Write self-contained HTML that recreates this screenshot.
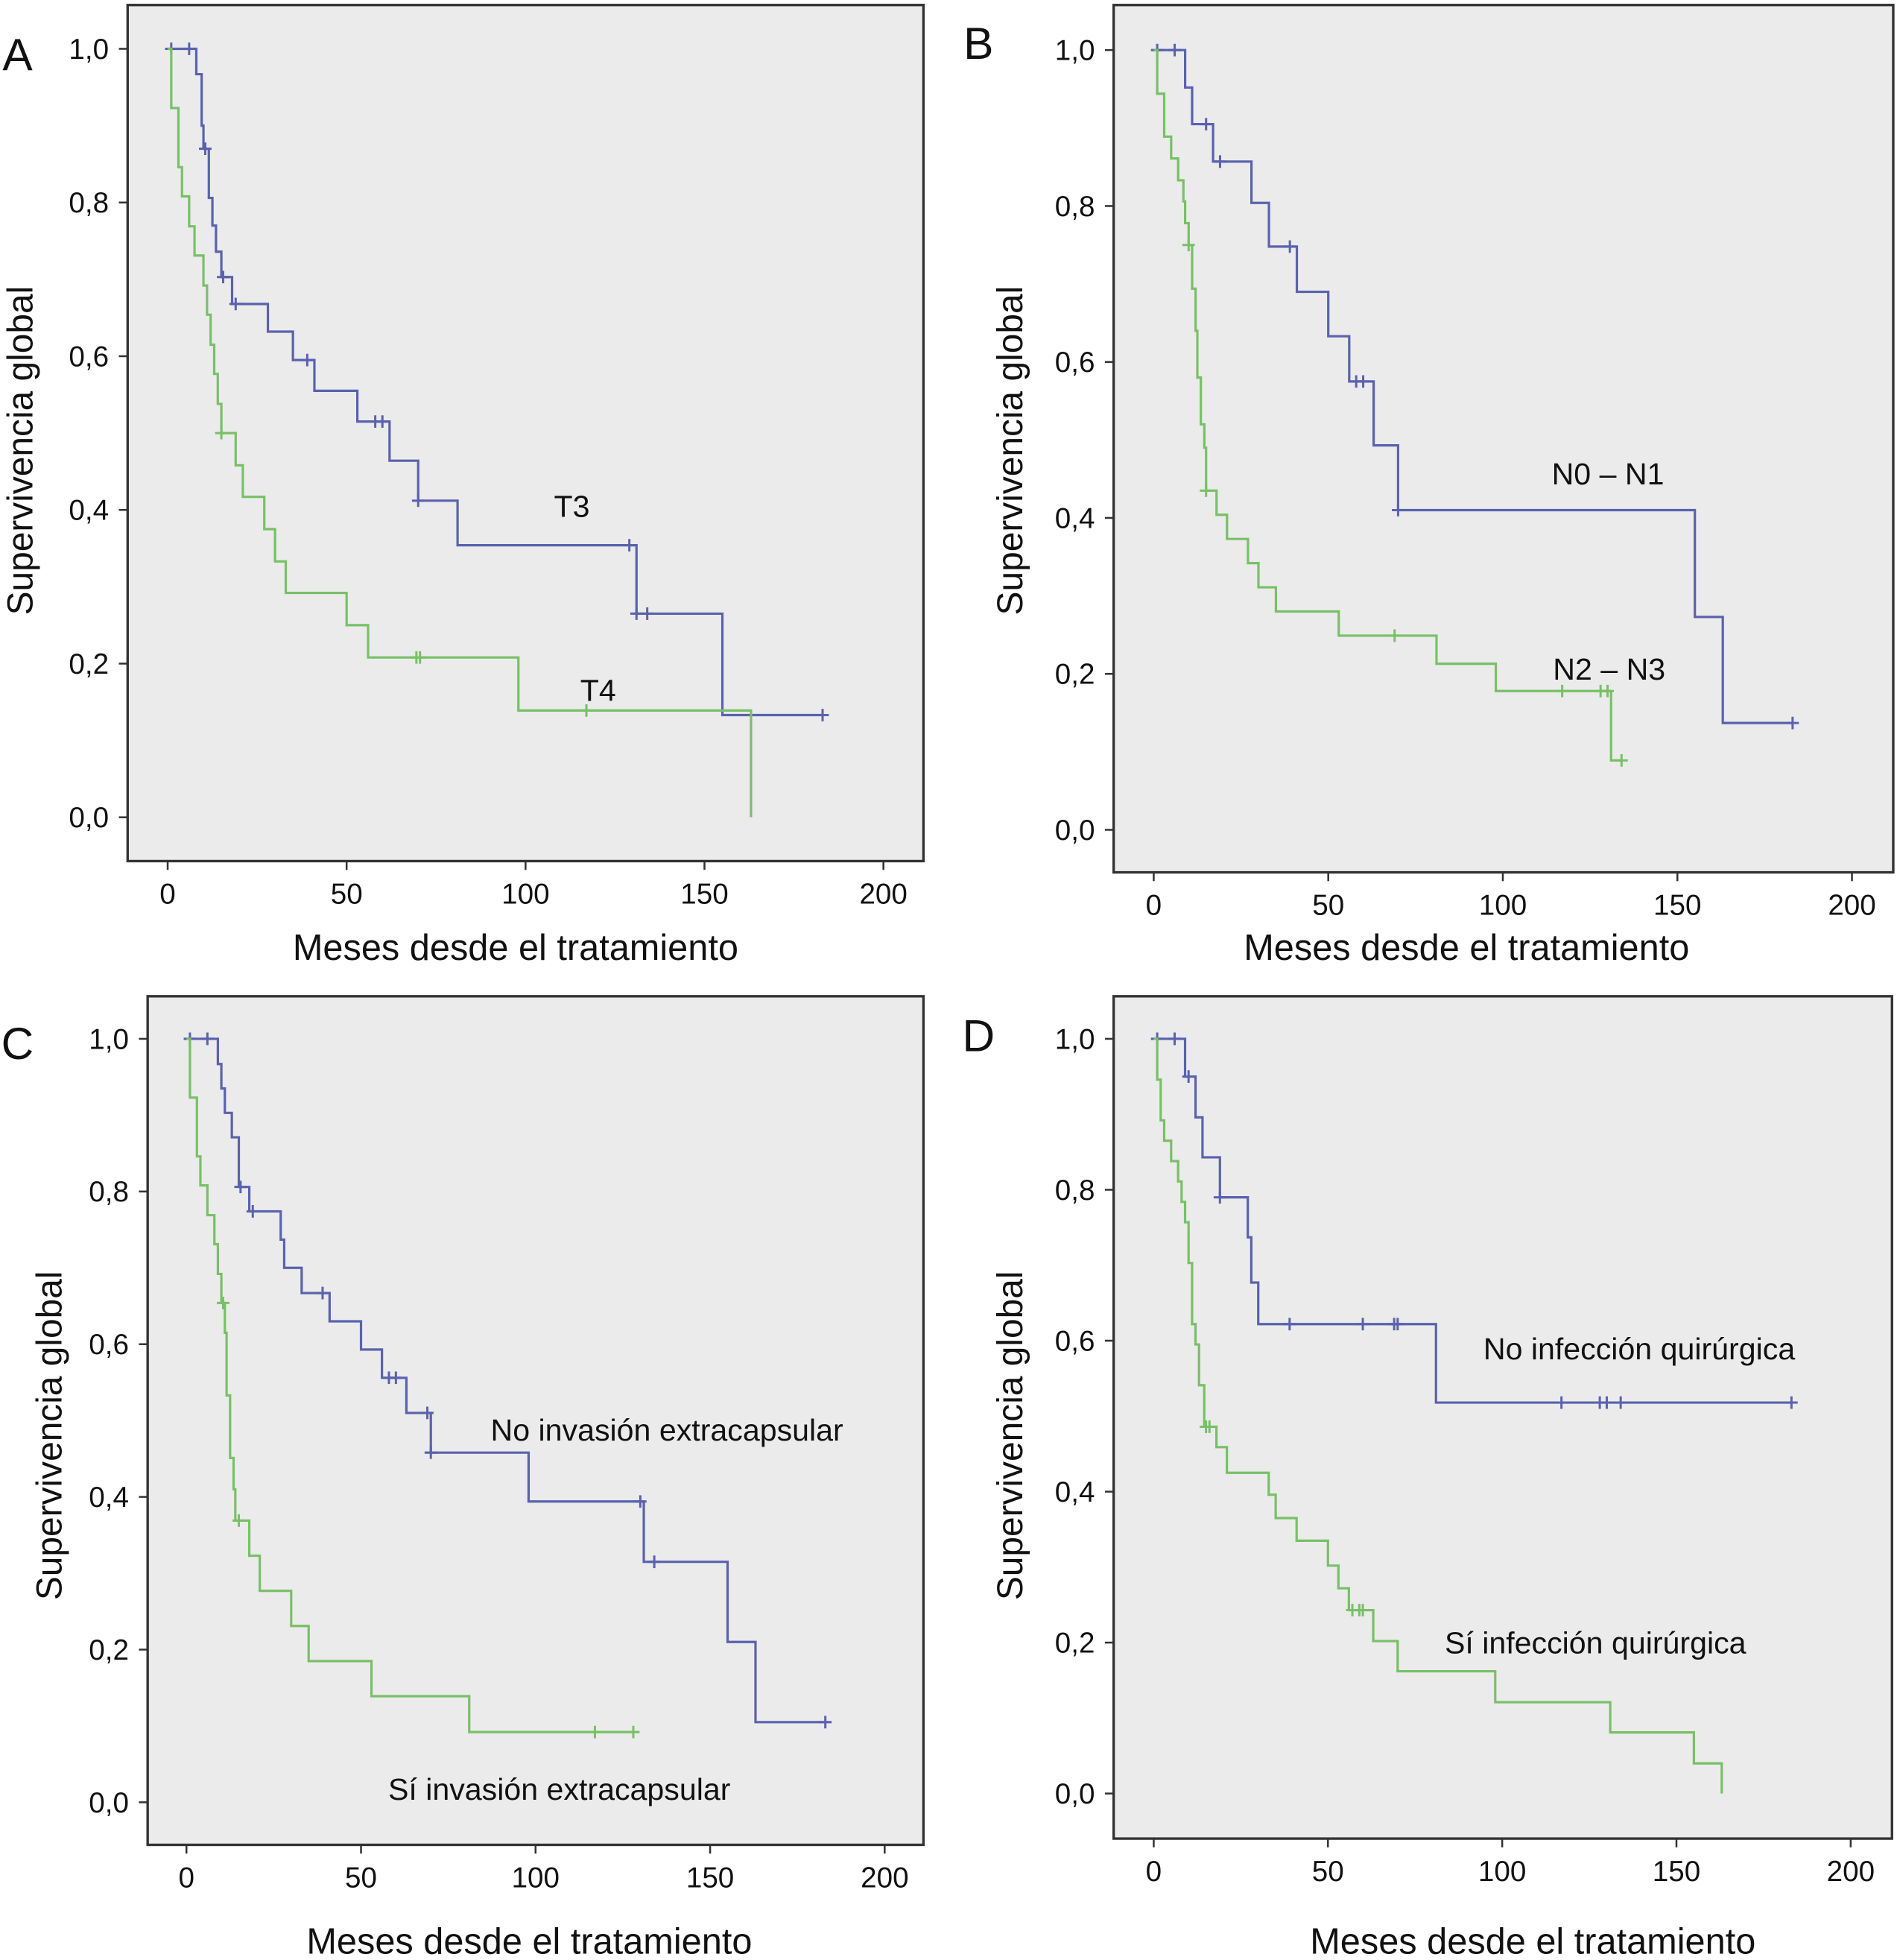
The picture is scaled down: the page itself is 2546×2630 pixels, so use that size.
<!DOCTYPE html>
<html><head><meta charset="utf-8"><style>
html,body{margin:0;padding:0;background:#fff;}
svg{display:block;font-family:"Liberation Sans",Arial,sans-serif;}
</style></head><body>
<svg id="chart" xmlns="http://www.w3.org/2000/svg" width="2546" height="2630" viewBox="0 0 1516 1566"></svg>
<script>
// ---- data (months, survival) ----
const xTicks = [0, 50, 100, 150, 200];
const xTickLabels = ["0", "50", "100", "150", "200"];
const yTicks = [0, 0.2, 0.4, 0.6, 0.8, 1.0];
const yTickLabels = ["0,0", "0,2", "0,4", "0,6", "0,8", "1,0"];

const aT3Times = [0, 8, 9.5, 10, 11.5, 12.5, 13.5, 15, 18, 28, 35, 41, 53, 62, 70, 81, 131, 155];
const aT3Surv = [1, 0.967, 0.90, 0.87, 0.806, 0.77, 0.736, 0.703, 0.668, 0.632, 0.595, 0.555, 0.515, 0.464, 0.412, 0.354, 0.265, 0.133];
const aT3End = 183;
const aT3CensT = [1, 6, 10.5, 15.5, 19, 39, 58, 60, 70, 129, 131, 134, 183];
const aT4Times = [0, 1, 3, 4, 6, 7.5, 10, 11, 12, 13, 14, 15, 19, 21, 27, 30, 33, 50, 56, 98, 163];
const aT4Surv = [1, 0.923, 0.846, 0.808, 0.769, 0.731, 0.692, 0.654, 0.615, 0.577, 0.538, 0.50, 0.458, 0.417, 0.375, 0.333, 0.292, 0.25, 0.208, 0.139, 0];
const aT4End = 163;
const aT4CensT = [15, 69.5, 70.5, 117];

const bN01Times = [0, 9, 11, 17, 28, 33, 41, 50, 56, 63, 70, 155, 163];
const bN01Surv = [1, 0.952, 0.905, 0.857, 0.804, 0.748, 0.69, 0.633, 0.575, 0.493, 0.41, 0.273, 0.137];
const bN01End = 183;
const bN01CensT = [1, 6, 15, 19, 39, 58, 60, 70, 183];
const bN23Times = [0, 1, 3, 5, 7, 8.5, 9, 10, 11, 12, 12.5, 13.5, 14.5, 15, 18, 21, 27, 30, 35, 53, 81, 98, 131];
const bN23Surv = [1, 0.944, 0.889, 0.861, 0.833, 0.806, 0.778, 0.75, 0.694, 0.64, 0.58, 0.52, 0.49, 0.435, 0.404, 0.373, 0.342, 0.311, 0.28, 0.249, 0.213, 0.178, 0.089];
const bN23End = 134;
const bN23CensT = [10, 15, 69, 117, 128, 130, 134];

const cNoTimes = [0, 9, 10, 11, 13, 15, 18, 27, 28, 33, 41, 50, 56, 63, 70, 98, 131, 155, 163];
const cNoSurv = [1, 0.967, 0.935, 0.903, 0.871, 0.806, 0.774, 0.737, 0.70, 0.667, 0.63, 0.593, 0.556, 0.51, 0.458, 0.394, 0.315, 0.21, 0.105];
const cNoEnd = 183;
const cNoCensT = [1, 6, 15.5, 19, 39, 58, 60, 69, 70, 130, 134, 183];
const cSiTimes = [0, 1, 3, 4, 6, 8, 9, 10, 11, 11.5, 12.5, 13.5, 14, 18, 21, 30, 35, 53, 81];
const cSiSurv = [1, 0.923, 0.846, 0.808, 0.769, 0.731, 0.692, 0.654, 0.615, 0.533, 0.451, 0.41, 0.369, 0.323, 0.277, 0.231, 0.185, 0.139, 0.092];
const cSiEnd = 128;
const cSiCensT = [10.5, 15, 117, 128];

const dNoTimes = [0, 9, 12, 14, 19, 27, 28, 30, 81];
const dNoSurv = [1, 0.95, 0.896, 0.843, 0.79, 0.737, 0.677, 0.622, 0.518];
const dNoEnd = 183;
const dNoCensT = [1, 6, 10, 19, 39, 60, 69, 70, 117, 128, 130, 134, 183];
const dSiTimes = [0, 1, 2, 3, 5, 7, 8, 9, 10, 11, 12, 13, 14.5, 18, 21, 33, 35, 41, 50, 53, 56, 63, 70, 98, 131, 155, 163];
const dSiSurv = [1, 0.946, 0.892, 0.865, 0.838, 0.811, 0.784, 0.757, 0.703, 0.622, 0.595, 0.541, 0.486, 0.459, 0.425, 0.396, 0.365, 0.335, 0.302, 0.272, 0.243, 0.202, 0.162, 0.121, 0.081, 0.04, 0];
const dSiEnd = 163;
const dSiCensT = [15, 16, 57, 59, 60];

// ---- layout ----
const BLUE = "#5a62ae", GREEN = "#78c067";
const panels = [
 {id:"a", letter:"A", L:102, T:4, R:738, B:688, x0:134, x200:706, y1:39, y0:653, lx:14, ly:56, tx:412, ty:767, yx:27, yy:360,
  series:[{n:"t3",c:BLUE,t:aT3Times,s:aT3Surv,e:aT3End,cz:aT3CensT},{n:"t4",c:GREEN,t:aT4Times,s:aT4Surv,e:aT4End,cz:aT4CensT}],
  labels:[["T3",457,413],["T4",478,560]]},
 {id:"b", letter:"B", L:890, T:4, R:1513, B:697, x0:922, x200:1480, y1:40, y0:663, lx:782, ly:47, tx:1172, ty:767, yx:818, yy:360,
  series:[{n:"n0-n1",c:BLUE,t:bN01Times,s:bN01Surv,e:bN01End,cz:bN01CensT},{n:"n2-n3",c:GREEN,t:bN23Times,s:bN23Surv,e:bN23End,cz:bN23CensT}],
  labels:[["N0 – N1",1285,387],["N2 – N3",1286,543]]},
 {id:"c", letter:"C", L:118, T:796, R:738, B:1474, x0:149, x200:707, y1:830, y0:1440, lx:14, ly:846, tx:423, ty:1561, yx:50, yy:1147,
  series:[{n:"no-invasion",c:BLUE,t:cNoTimes,s:cNoSurv,e:cNoEnd,cz:cNoCensT},{n:"si-invasion",c:GREEN,t:cSiTimes,s:cSiSurv,e:cSiEnd,cz:cSiCensT}],
  labels:[["No invasión extracapsular",533,1151],["Sí invasión extracapsular",447,1438]]},
 {id:"d", letter:"D", L:890, T:796, R:1512, B:1469, x0:922, x200:1479, y1:830, y0:1433, lx:782, ly:840, tx:1225, ty:1561, yx:818, yy:1147,
  series:[{n:"no-infeccion",c:BLUE,t:dNoTimes,s:dNoSurv,e:dNoEnd,cz:dNoCensT},{n:"si-infeccion",c:GREEN,t:dSiTimes,s:dSiSurv,e:dSiEnd,cz:dSiCensT}],
  labels:[["No infección quirúrgica",1310,1086],["Sí infección quirúrgica",1275,1321]]}
];

const NS = "http://www.w3.org/2000/svg";
const svg = document.getElementById("chart");
function mk(tag, attrs, parent){ const e = document.createElementNS(NS, tag); for (const k in attrs) e.setAttribute(k, attrs[k]); (parent||svg).appendChild(e); return e; }

function survAt(t, times, surv){ let v = surv[0]; for (let i=0;i<times.length;i++){ if (times[i] <= t) v = surv[i]; } return v; }

panels.forEach(p => {
  const g = mk("g", {});
  
  
  const xs = v => p.x0 + (p.x200 - p.x0) * v / 200;
  const ys = v => p.y0 + (p.y1 - p.y0) * v;
  const bg = mk("rect", {x:p.L, y:p.T, width:p.R-p.L, height:p.B-p.T, fill:"#ebebeb", stroke:"#333", "stroke-width":2}, g);
  
  
  xTicks.forEach((v,i) => {
    mk("line", {x1:xs(v), x2:xs(v), y1:p.B, y2:p.B+7, stroke:"#333", "stroke-width":1.5}, g);
    const t = mk("text", {x:xs(v), y:p.B+34, "font-size":23, "text-anchor":"middle", fill:"#111"}, g);
    t.textContent = xTickLabels[i];
    
    
  });
  yTicks.forEach((v,i) => {
    mk("line", {x1:p.L-7, x2:p.L, y1:ys(v), y2:ys(v), stroke:"#333", "stroke-width":1.5}, g);
    const t = mk("text", {x:p.L-15, y:ys(v)+8, "font-size":23, "text-anchor":"end", fill:"#111"}, g);
    t.textContent = yTickLabels[i];
    
    
  });
  p.series.forEach(s => {
    let d = "M" + xs(s.t[0]) + "," + ys(s.s[0]);
    for (let i=1;i<s.t.length;i++){ d += " H" + xs(s.t[i]) + " V" + ys(s.s[i]); }
    d += " H" + xs(s.e);
    const path = mk("path", {d:d, fill:"none", stroke:s.c, "stroke-width":1.9}, g);
    
    
    s.cz.forEach(ct => {
      const cy = ys(survAt(ct, s.t, s.s)), cx = xs(ct);
      const m = mk("path", {d:"M"+(cx-5)+","+cy+" H"+(cx+5)+" M"+cx+","+(cy-5)+" V"+(cy+5), stroke:s.c, "stroke-width":1.8}, g);
      
      
    });
  });
  p.labels.forEach(l => {
    const t = mk("text", {x:l[1], y:l[2], "font-size":24.5, "text-anchor":"middle", fill:"#111"}, g);
    t.textContent = l[0];
    
    
  });
  const xt = mk("text", {x:p.tx, y:p.ty, "font-size":29, "text-anchor":"middle", fill:"#111"}, g);
  xt.textContent = "Meses desde el tratamiento";
  
  
  const yt = mk("text", {x:p.yx-1, y:p.yy, "font-size":28.5, "text-anchor":"middle", fill:"#111", transform:"rotate(-90 "+(p.yx-1)+" "+p.yy+")"}, g);
  yt.textContent = "Supervivencia global";
  
  
  const lt = mk("text", {x:p.lx, y:p.ly, "font-size":36, "text-anchor":"middle", fill:"#111"}, g);
  lt.textContent = p.letter;
  
  
});
</script>
</body></html>
